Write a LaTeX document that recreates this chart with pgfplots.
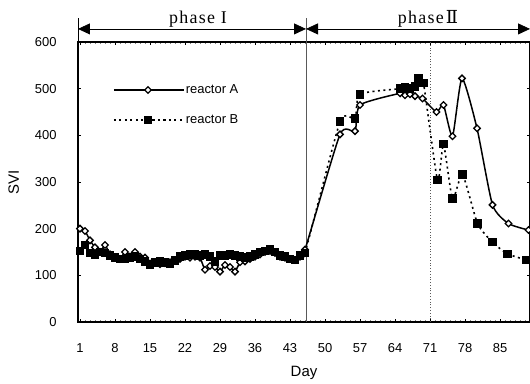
\documentclass[border=0pt]{standalone}
\usepackage{fontspec}
\setmainfont{Liberation Sans}
\newfontfamily\phfont[LetterSpace=7]{Liberation Serif}
\newfontfamily\dvserif{DejaVu Serif}
\usepackage{pgfplots}
\pgfplotsset{compat=1.18}
\usetikzlibrary{calc,arrows.meta}

\pgfplotstableread{
day val
1 200
2 195
3 175
4 160
5 150
6 165
7 145
8 138
9 135
10 150
11 140
12 150
13 140
14 138
15 125
16 128
17 124
18 126
19 128
20 132
21 135
22 140
23 138
24 140
25 138
26 112
27 120
28 118
29 108
30 122
31 118
32 108
33 128
34 130
35 135
36 140
37 145
38 150
39 152
40 148
41 140
42 138
43 135
44 133
45 140
46 155
53 402
56 409
57 465
65 490
66 486
67 488
68 484
69.5 479
72.3 450
73.7 465
75.5 398
77.4 522
80.4 415
83.5 251
86.7 211
90.7 197
}\reactorA

\pgfplotstableread{
day val
1 152
2 165
3 148
4 145
5 150
6 148
7 142
8 138
9 135
10 135
11 138
12 140
13 135
14 130
15 122
16 128
17 130
18 128
19 125
20 132
21 140
22 143
23 145
24 145
25 142
26 145
27 140
28 130
29 142
30 143
31 145
32 143
33 140
34 138
35 140
36 145
37 150
38 152
39 155
40 150
41 142
42 140
43 135
44 133
45 143
46 148
53 429
56 436
57 488
65 500
66 503
67 500
68 505
68.7 522
69.7 512
72.5 304
73.7 381
75.5 264
77.5 316
80.5 211
83.5 171
86.5 146
90.3 133
}\reactorB

\begin{document}
\begin{tikzpicture}
\begin{axis}[
  scale only axis, width=452bp, height=280bp,
  xmin=0.6, xmax=91, ymin=0, ymax=600,
  xtick={1,8,...,85}, ytick={0,100,...,600},
  minor xtick={1,...,91},
  tick align=inside, major tick length=3bp, minor tick length=2bp,
  minor tick style={gray, thin},
  major tick style={black, thin},
  axis line style={line width=1.2bp},
  /pgf/number format/assume math mode=true,
  ticklabel style={font=\fontsize{13}{15}\selectfont},
  xticklabel style={yshift=-18bp},
  yticklabel style={xshift=-18bp},
  xlabel={Day}, ylabel={SVI},
  label style={font=\fontsize{15}{18}\selectfont},
  xlabel style={at={(axis description cs:0.5,-0.182)}, anchor=center},
  ylabel style={at={(axis description cs:-0.142,0.5)}, anchor=center},
  clip=false,
  legend style={at={(axis cs:7.6,513)}, anchor=north west, draw=none, fill=none,
     inner sep=0pt, row sep=15.5bp, font=\fontsize{13}{15}\selectfont,
     nodes={inner sep=1bp, text height=9.5bp, text depth=3bp}},
  legend cell align=left,
  legend image code/.code={
    \draw[mark repeat=2,mark phase=2,#1] plot coordinates {(0bp,0bp) (34bp,0bp) (70bp,0bp)};
  },
]
% reference lines
\draw[line width=0.8bp, gray!70!black] (axis cs:46.2,0) -- (axis cs:46.2,651);
\draw[dotted, line width=0.8bp, gray!70!black] (axis cs:71,0) -- (axis cs:71,600);
\draw[line width=0.8bp] (axis cs:0.6,600) -- (axis cs:0.6,651);
\draw[line width=0.8bp] (axis cs:91,600) -- (axis cs:91,651);
% phase arrows
\draw[line width=0.8bp, {Triangle[length=12bp,width=11bp]}-{Triangle[length=12bp,width=11bp]}] (axis cs:0.6,628) -- (axis cs:46.2,628);
\draw[line width=0.8bp, {Triangle[length=12bp,width=11bp]}-{Triangle[length=12bp,width=11bp]}] (axis cs:46.2,628) -- (axis cs:91,628);
\node[anchor=base, font=\fontsize{18}{20}\selectfont\phfont] at (axis cs:24.6,638.6) {phase I};
\node[anchor=base, font=\fontsize{18}{20}\selectfont\phfont] at (axis cs:70.6,638.6) {phase\hspace{2bp}{\dvserif Ⅱ}};

\addplot[black, line width=1.5bp, smooth, tension=0.35, mark=square*, mark size=2.3bp,
  mark options={rotate=45, fill=white, solid, line width=1.3bp}]
  table[x=day, y=val] {\reactorA};
\addlegendentry{reactor A}
\addplot[black, line width=1.6bp, smooth, tension=0.35, dash pattern=on 2bp off 3.5bp, mark=square*, mark size=3.5bp,
  mark options={solid, fill=black}]
  table[x=day, y=val] {\reactorB};
\addlegendentry{reactor B}
\end{axis}
\pgfresetboundingbox
\path ($(current axis.south west)+(-78bp,-62bp)$) rectangle ($(current axis.north east)+(0,42bp)$);
\end{tikzpicture}
\end{document}
